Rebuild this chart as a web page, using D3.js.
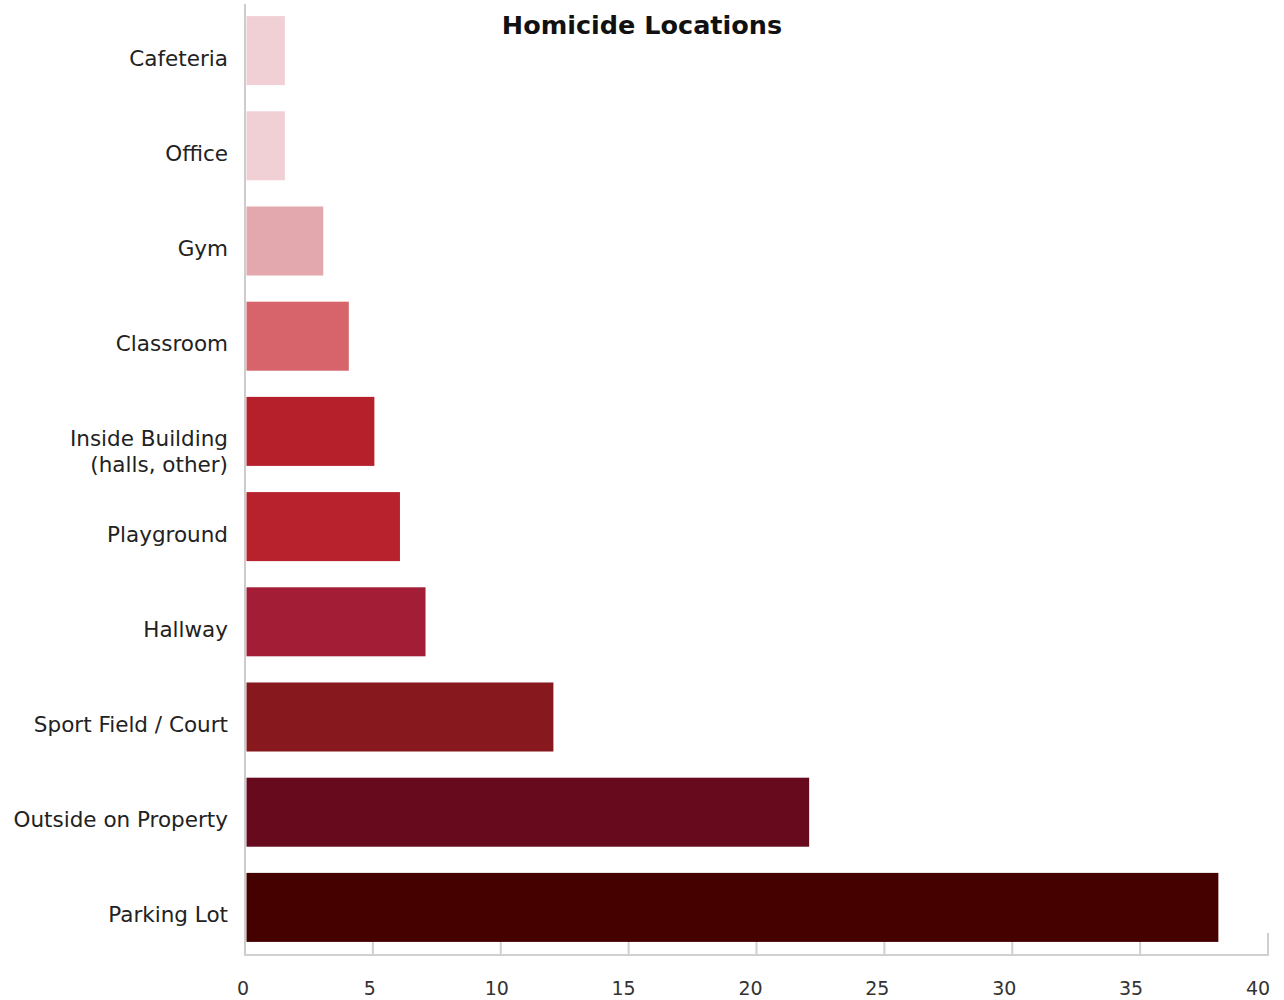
<!DOCTYPE html>
<html>
<head>
<meta charset="utf-8">
<script src="https://cdn.jsdelivr.net/npm/d3@7"></script>
<style>
  html, body { margin: 0; padding: 0; background: #fff; }
  svg { display: block; font-family: "DejaVu Sans", "Noto Sans", sans-serif; }
</style>
</head>
<body>
<svg id="chart" width="1284" height="1000"></svg>
<script>
const categories = ["Cafeteria", "Office", "Gym", "Classroom", "Inside Building\n(halls, other)", "Playground", "Hallway", "Sport Field / Court", "Outside on Property", "Parking Lot"];
const values = [1.5, 1.5, 3, 4, 5, 6, 7, 12, 22, 38];
const barColors = ["#f0d0d5", "#f0d0d5", "#e3a8ad", "#d6646a", "#b5202a", "#b7222c", "#a31d37", "#87181e", "#670a1e", "#450000"];
const xTicks = [0, 5, 10, 15, 20, 25, 30, 35, 40];
const titleText = "Homicide Locations";

const svg = d3.select("#chart");
const x = d3.scaleLinear().domain([0, 40]).range([245, 1268]);
const y = d3.scaleBand().domain(categories).range([3, 955]).paddingInner(0.275).paddingOuter(0.1375);

// x ticks (inner, upward) drawn under bars
svg.append("g").selectAll("line").data(xTicks).join("line")
  .attr("x1", d => x(d)).attr("x2", d => x(d))
  .attr("y1", 955).attr("y2", 933)
  .attr("stroke", "#cfcfcf").attr("stroke-width", 2);

// bars
svg.append("g").selectAll("rect").data(categories).join("rect")
  .attr("x", x(0) + 1.5)
  .attr("y", d => y(d))
  .attr("width", (d, i) => x(values[i]) - x(0))
  .attr("height", y.bandwidth())
  .attr("fill", (d, i) => barColors[i]);

// axes lines
svg.append("line").attr("x1", x(0)).attr("x2", x(0)).attr("y1", 4).attr("y2", 956)
  .attr("stroke", "#cccccc").attr("stroke-width", 2);
svg.append("line").attr("x1", x(0) - 1).attr("x2", x(40) + 1).attr("y1", 955).attr("y2", 955)
  .attr("stroke", "#d0d0d0").attr("stroke-width", 2);

// x tick labels
svg.append("g").selectAll("text").data(xTicks).join("text")
  .attr("x", d => x(d) - 2 - d * 0.2)
  .attr("y", 995)
  .attr("text-anchor", "middle")
  .attr("font-size", 19)
  .attr("fill", "#333")
  .text(d => d);

// y labels
const labels = svg.append("g").selectAll("text").data(categories).join("text")
  .attr("x", 228)
  .attr("y", d => y(d) + y.bandwidth() / 2 + 15)
  .attr("text-anchor", "end")
  .attr("font-size", 21.5)
  .attr("fill", "#222");
labels.each(function(d) {
  const parts = d.split("\n");
  const t = d3.select(this);
  parts.forEach((p, i) => {
    t.append("tspan").attr("x", 228).attr("dy", i === 0 ? 0 : 26).text(p);
  });
});

// title
svg.append("text")
  .attr("x", 642).attr("y", 34)
  .attr("text-anchor", "middle")
  .attr("font-size", 25.5)
  .attr("font-weight", "bold")
  .attr("fill", "#111")
  .text(titleText);
</script>
</body>
</html>
